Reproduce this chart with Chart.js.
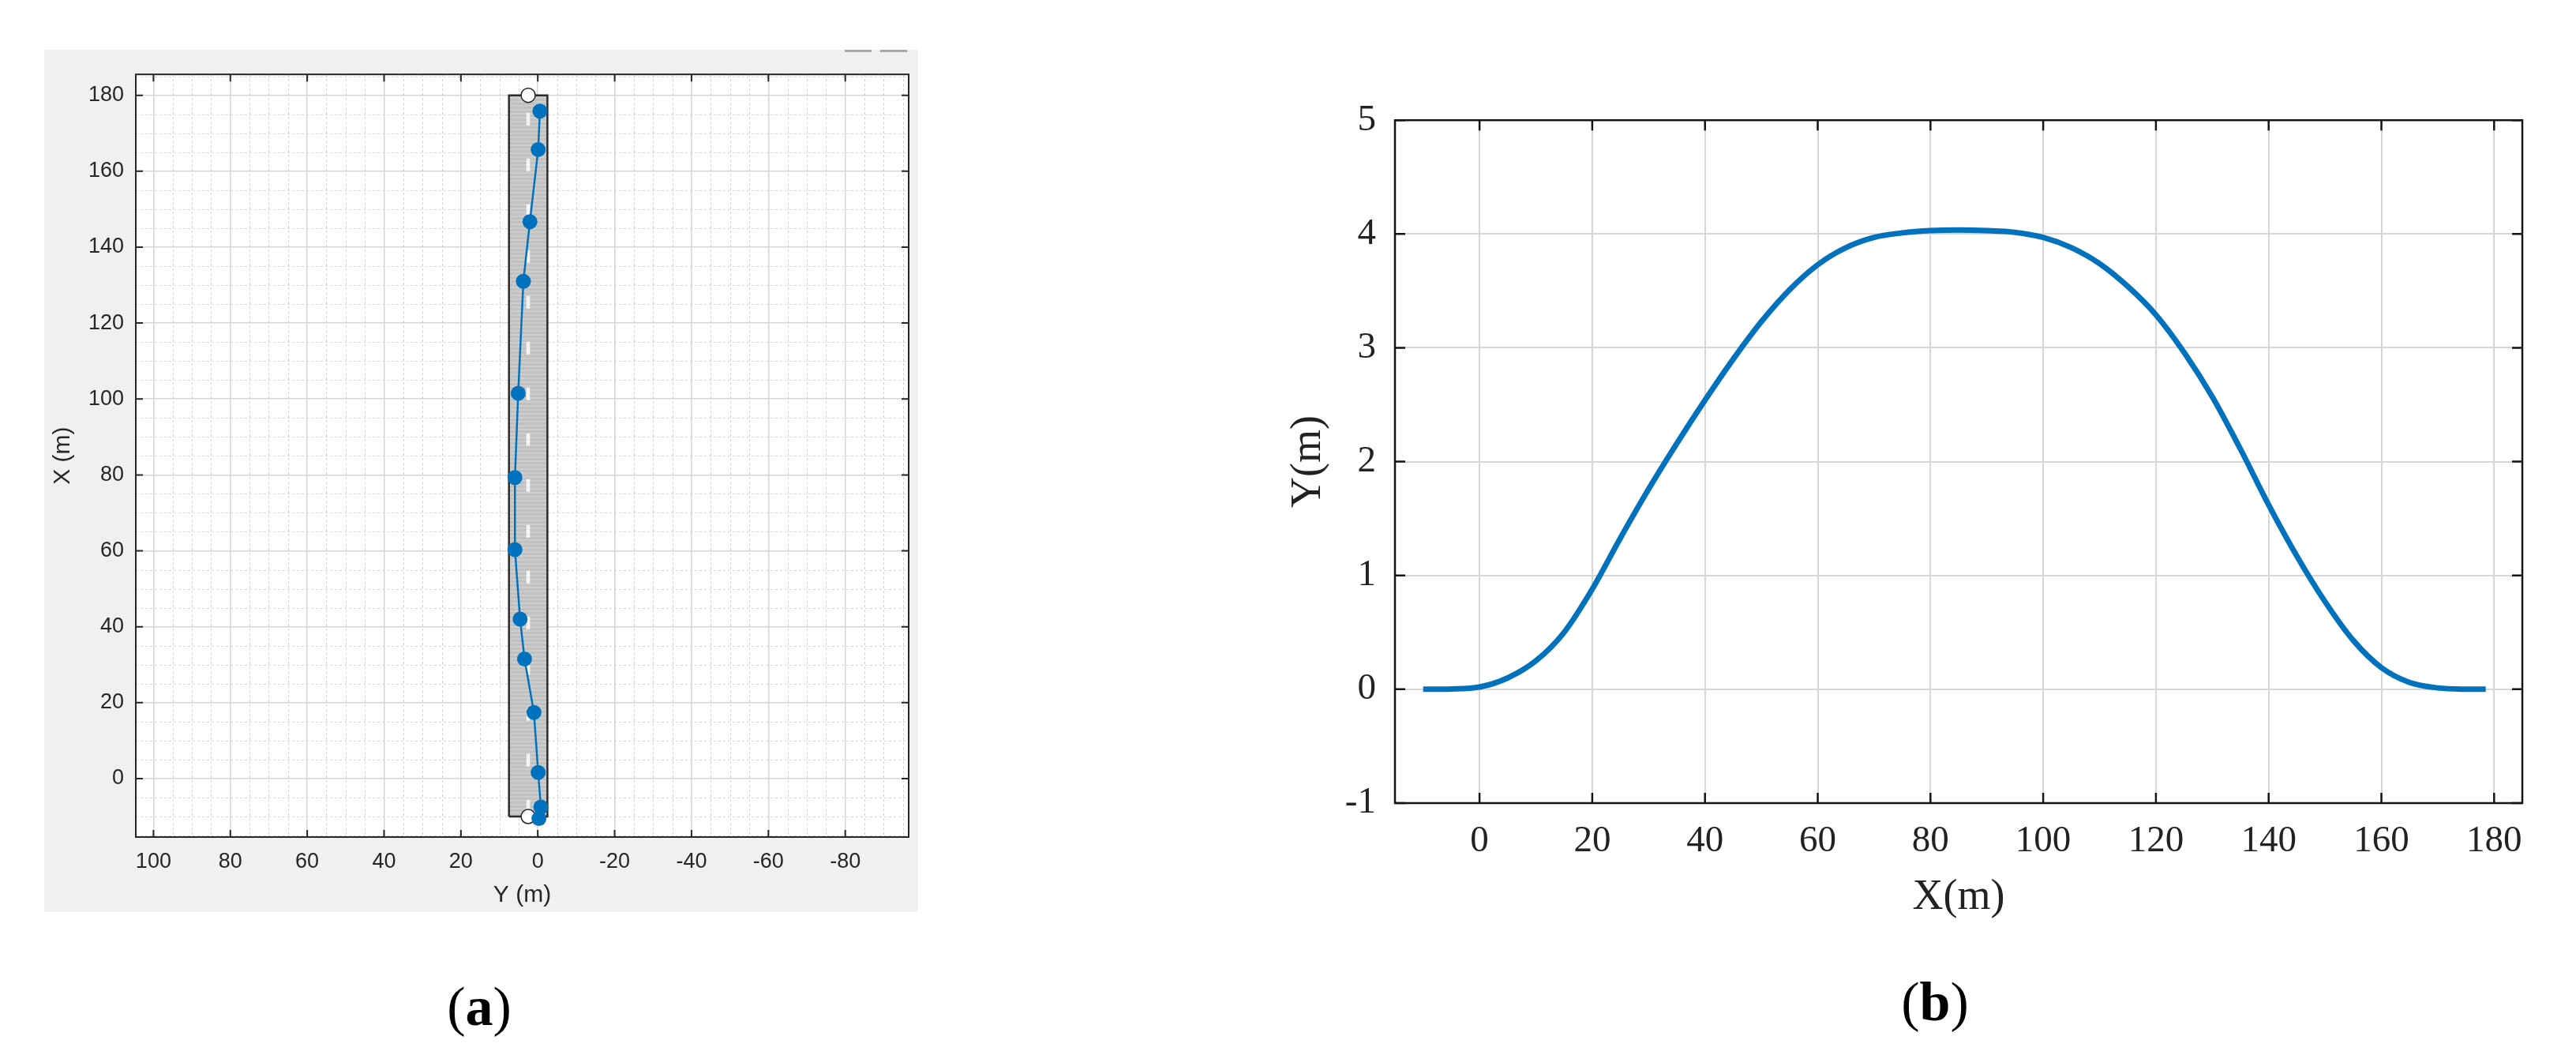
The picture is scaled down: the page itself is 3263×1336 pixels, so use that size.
<!DOCTYPE html>
<html>
<head>
<meta charset="utf-8">
<script src="https://cdn.jsdelivr.net/npm/chart.js@4.4.1/dist/chart.umd.min.js"></script>
<style>
  html, body { margin: 0; padding: 0; background: #fff; }
  body { width: 3263px; height: 1336px; position: relative; overflow: hidden; }
  canvas { position: absolute; }
  #chartA { left: 56px; top: 63px; }
  #chartB { left: 1600px; top: 100px; }
  .tool { position: absolute; top: 63px; width: 34px; height: 3px; background: #a8a8a8; }
  .cap { position: absolute; width: 200px; height: 70px; line-height: 70px; text-align: center;
         font-family: 'Liberation Serif', 'Times New Roman', serif; font-size: 70px; color: #000; }
</style>
</head>
<body>
<canvas id="chartA" width="1107" height="1092"></canvas>
<canvas id="chartB" width="1640" height="1100"></canvas>
<div class="tool" style="left:1070px"></div>
<div class="tool" style="left:1115px"></div>
<div class="cap" style="left:507px; top:1240px">(<b>a</b>)</div>
<div class="cap" style="left:2351px; top:1234px">(<b>b</b>)</div>
<script>
// ---- panel (a): waypoints on the road, X (m) along, Y (m) across ----
const wayY = [-0.3, -0.8, -0.1, 1.0, 3.45, 4.6, 5.95, 5.95, 5.1, 3.75, 2.05, -0.1, -0.55];
const wayX = [-10.5, -7.5, 1.6, 17.4, 31.5, 42, 60.3, 79.3, 101.5, 131, 146.7, 165.7, 175.8];
const roadEdgeY = [7.5, -2.5];
const roadEndX = [-10, 180];
const laneCenterY = 2.5;
const latTicks = [100, 80, 60, 40, 20, 0, -20, -40, -60, -80];
const longTicks = [0, 20, 40, 60, 80, 100, 120, 140, 160, 180];

// ---- panel (b): planned path ----
const pathX = [-10, -5, 0, 5, 10, 15, 20, 25, 30, 35, 40, 45, 50, 55, 60, 65, 70, 75, 80, 85, 90,
  95, 100, 105, 110, 115, 120, 125, 130, 135, 140, 145, 150, 155, 160, 165, 170, 175, 178.5];
const pathY = [0, 0.003, 0.02, 0.1, 0.25, 0.5, 0.88, 1.33, 1.76, 2.16, 2.54, 2.9, 3.23, 3.51, 3.73,
  3.88, 3.97, 4.01, 4.03, 4.035, 4.03, 4.015, 3.97, 3.88, 3.74, 3.54, 3.29, 2.96, 2.57, 2.11, 1.62,
  1.17, 0.77, 0.43, 0.19, 0.06, 0.012, 0.001, 0];
const bTicksX = [0, 20, 40, 60, 80, 100, 120, 140, 160, 180];
const bTicksY = [-1, 0, 1, 2, 3, 4, 5];

const BLUE = '#0072BD';

// white plot area, minor dashed grid, box with inward ticks (matlab look)
const matlabBox = {
  id: 'matlabBox',
  beforeDraw(chart, args, o) {
    const { ctx, chartArea: a } = chart;
    ctx.save();
    ctx.fillStyle = o.bg;
    ctx.fillRect(0, 0, chart.width, chart.height);
    ctx.fillStyle = '#ffffff';
    ctx.fillRect(a.left, a.top, a.width, a.height);
    ctx.restore();
  },
  beforeDatasetsDraw(chart, args, o) {
    if (!o.minorStep) return;
    const { ctx, chartArea: a, scales: { x, y } } = chart;
    ctx.save();
    ctx.strokeStyle = o.minorColor;
    ctx.lineWidth = 1;
    ctx.setLineDash([3, 3]);
    for (let v = Math.ceil(x.min / o.minorStep) * o.minorStep; v <= x.max; v += o.minorStep) {
      if (Math.abs(v % o.majorStep) < 1e-9) continue;
      const px = Math.round(x.getPixelForValue(v)) + 0.5;
      ctx.beginPath(); ctx.moveTo(px, a.top); ctx.lineTo(px, a.bottom); ctx.stroke();
    }
    for (let v = Math.ceil(y.min / o.minorStep) * o.minorStep; v <= y.max; v += o.minorStep) {
      if (Math.abs(v % o.majorStep) < 1e-9) continue;
      const py = Math.round(y.getPixelForValue(v)) + 0.5;
      ctx.beginPath(); ctx.moveTo(a.left, py); ctx.lineTo(a.right, py); ctx.stroke();
    }
    ctx.restore();
  },
  afterDraw(chart, args, o) {
    const { ctx, chartArea: a, scales: { x, y } } = chart;
    const L = o.tickLen;
    ctx.save();
    ctx.strokeStyle = o.boxColor;
    ctx.lineWidth = o.boxWidth;
    ctx.beginPath();
    x.ticks.forEach(t => {
      const px = x.getPixelForValue(t.value);
      ctx.moveTo(px, a.bottom); ctx.lineTo(px, a.bottom - L);
      ctx.moveTo(px, a.top); ctx.lineTo(px, a.top + L);
    });
    y.ticks.forEach(t => {
      const py = y.getPixelForValue(t.value);
      ctx.moveTo(a.left, py); ctx.lineTo(a.left + L, py);
      ctx.moveTo(a.right, py); ctx.lineTo(a.right - L, py);
    });
    ctx.stroke();
    ctx.strokeRect(a.left, a.top, a.width, a.height);
    ctx.restore();
  }
};

// striped gray road surface
const stripe = document.createElement('canvas');
stripe.width = 8; stripe.height = 5;
const sctx = stripe.getContext('2d');
sctx.fillStyle = '#c1c1c1'; sctx.fillRect(0, 0, 8, 5);
sctx.fillStyle = '#cdcdcd'; sctx.fillRect(0, 0, 8, 2);
const roadPattern = sctx.createPattern(stripe, 'repeat');

const sansA = 'Liberation Sans, Arial, sans-serif';

new Chart(document.getElementById('chartA'), {
  type: 'scatter',
  data: {
    datasets: [
      {
        data: wayX.map((v, i) => ({ x: wayY[i], y: v })),
        showLine: true,
        borderColor: BLUE,
        borderWidth: 2.5,
        pointRadius: 9.5,
        pointBorderWidth: 0,
        pointBackgroundColor: BLUE,
      },
      {
        data: roadEndX.map(v => ({ x: laneCenterY, y: v })),
        pointRadius: 9,
        pointBackgroundColor: '#ffffff',
        pointBorderColor: '#222222',
        pointBorderWidth: 1.5,
      },
      {
        data: [{ x: laneCenterY, y: roadEndX[1] }, { x: laneCenterY, y: roadEndX[0] }],
        showLine: true,
        borderColor: '#f4f4f4',
        borderWidth: 4.5,
        borderDash: [16, 42],
        borderDashOffset: 36,
        pointRadius: 0,
      },
      {
        data: [
          { x: roadEdgeY[0], y: roadEndX[0] }, { x: roadEdgeY[0], y: roadEndX[1] },
          { x: roadEdgeY[1], y: roadEndX[1] }, { x: roadEdgeY[1], y: roadEndX[0] },
          { x: roadEdgeY[0], y: roadEndX[0] },
        ],
        showLine: true,
        borderColor: '#2b2b2b',
        borderWidth: 2.5,
        pointRadius: 0,
      },
      {
        data: roadEdgeY.map(v => ({ x: v, y: roadEndX[1] })),
        showLine: true,
        borderWidth: 0,
        pointRadius: 0,
        backgroundColor: roadPattern,
        fill: { value: roadEndX[0] },
      },
    ],
  },
  options: {
    responsive: false,
    animation: false,
    events: [],
    layout: { padding: { left: 6, top: 19, right: 12, bottom: 2 } },
    plugins: {
      legend: { display: false },
      tooltip: { enabled: false },
      matlabBox: { bg: '#f0f0f0', minorStep: 5, majorStep: 20, minorColor: '#d2d2d2',
                   tickLen: 9, boxColor: '#262626', boxWidth: 2 },
    },
    scales: {
      x: {
        type: 'linear', position: 'bottom', reverse: true, min: -96.5, max: 104.6,
        afterBuildTicks: s => { s.ticks = latTicks.map(v => ({ value: v })); },
        afterFit: s => { s.height = 93; },
        grid: { color: '#d6d6d6', lineWidth: 1.5, drawTicks: false },
        border: { display: false },
        ticks: { padding: 15, color: '#262626', autoSkip: false, maxRotation: 0,
                 font: { family: sansA, size: 27 }, callback: v => String(v) },
        title: { display: true, text: 'Y (m)', color: '#262626',
                 font: { family: sansA, size: 30, lineHeight: 1 }, padding: { top: 0, bottom: 4 } },
      },
      y: {
        type: 'linear', position: 'left', min: -15.4, max: 185.5,
        afterBuildTicks: s => { s.ticks = longTicks.map(v => ({ value: v })); },
        afterFit: s => { s.width = 110; },
        grid: { color: '#d6d6d6', lineWidth: 1.5, drawTicks: false },
        border: { display: false },
        ticks: { padding: 15, color: '#262626', autoSkip: false,
                 font: { family: sansA, size: 27 }, callback: v => String(v) },
        title: { display: true, text: 'X (m)', color: '#262626',
                 font: { family: sansA, size: 30, lineHeight: 1 }, padding: { top: 3, bottom: 0 } },
      },
    },
  },
  plugins: [matlabBox],
});

const serifB = 'Liberation Serif, Times New Roman, serif';

new Chart(document.getElementById('chartB'), {
  type: 'scatter',
  data: {
    datasets: [{
      data: pathX.map((v, i) => ({ x: v, y: pathY[i] })),
      showLine: true,
      borderColor: BLUE,
      borderWidth: 7,
      pointRadius: 0,
      cubicInterpolationMode: 'monotone',
    }],
  },
  options: {
    responsive: false,
    animation: false,
    events: [],
    layout: { padding: { left: 17, top: 47, right: 45, bottom: 23 } },
    plugins: {
      legend: { display: false },
      tooltip: { enabled: false },
      matlabBox: { bg: '#ffffff', minorStep: 0, tickLen: 13, boxColor: '#151515', boxWidth: 2.5 },
    },
    scales: {
      x: {
        type: 'linear', position: 'bottom', min: -15, max: 185,
        afterBuildTicks: s => { s.ticks = bTicksX.map(v => ({ value: v })); },
        afterFit: s => { s.height = 160; },
        grid: { color: '#d6d6d6', lineWidth: 2, drawTicks: false },
        border: { display: false },
        ticks: { padding: 20, color: '#222222', autoSkip: false, maxRotation: 0,
                 font: { family: serifB, size: 47 }, callback: v => String(v) },
        title: { display: true, text: 'X(m)', color: '#222222',
                 font: { family: serifB, size: 54, lineHeight: 1 }, padding: { top: 0, bottom: 13 } },
      },
      y: {
        type: 'linear', position: 'left', min: -1, max: 5,
        afterBuildTicks: s => { s.ticks = bTicksY.map(v => ({ value: v })); },
        afterFit: s => { s.width = 150; },
        grid: { color: '#d6d6d6', lineWidth: 2, drawTicks: false },
        border: { display: false },
        ticks: { padding: 24, color: '#222222', autoSkip: false,
                 font: { family: serifB, size: 47 }, callback: v => String(v) },
        title: { display: true, text: 'Y(m)', color: '#222222',
                 font: { family: serifB, size: 54, lineHeight: 1 }, padding: { top: 14, bottom: 0 } },
      },
    },
  },
  plugins: [matlabBox],
});
</script>
</body>
</html>
